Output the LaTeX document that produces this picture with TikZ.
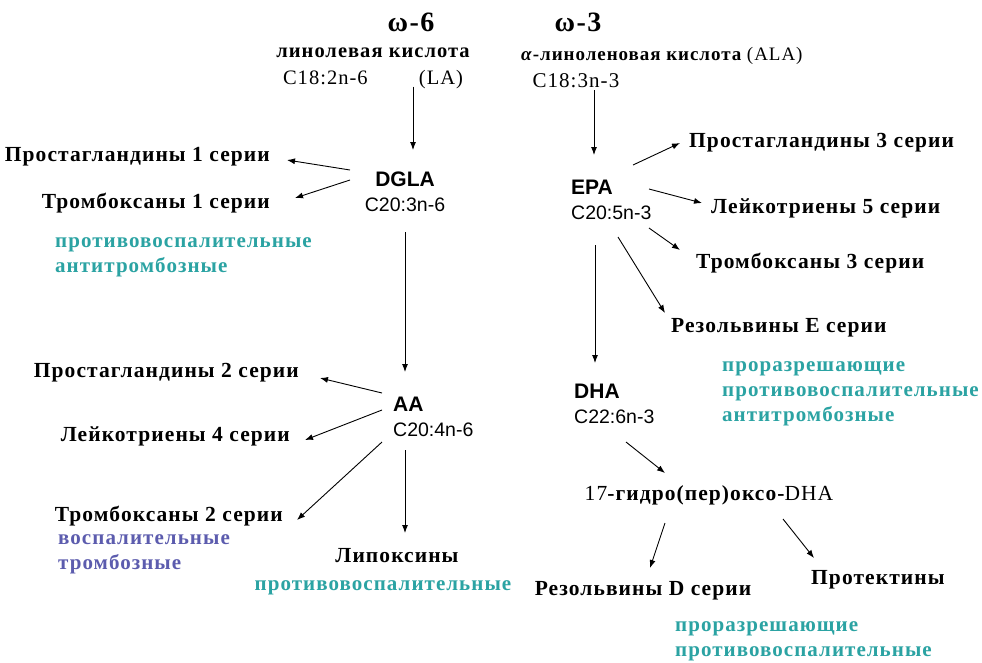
\documentclass[tikz,border=0pt]{standalone}
\usepackage{fontspec}
\setmainfont{Liberation Serif}[LetterSpace=5]
\setsansfont{Liberation Sans}
\usetikzlibrary{arrows.meta}
\definecolor{proresteal}{HTML}{2BA3A3}
\definecolor{inflamviolet}{HTML}{5C5CAE}
\newcommand\acidname[1]{{\fontsize{21}{25}\selectfont\bfseries #1}}

\begin{document}
\begin{tikzpicture}[x=1pt, y=-1pt,
    title/.style={font=\fontsize{28}{30}\selectfont\bfseries, inner sep=1pt},
    ser/.style={font=\fontsize{21.5}{27}\selectfont\bfseries, inner sep=1pt},
    acid/.style={font=\sffamily\fontsize{19.5}{25}\selectfont, align=left, inner sep=1pt},
    good/.style={font=\fontsize{21}{25}\selectfont\bfseries, text=proresteal, align=left, inner sep=0pt},
    bad/.style={good, text=inflamviolet},
    arrow/.style={-{Latex[length=8pt,width=6pt]}, line width=0.9pt},
  ]
  \useasboundingbox[fill=white] (0,0) rectangle (982,662);

  % omega-6
  \node[title] (w6) at (411,22) {ω-6};
  \node[ser, align=center, font=\fontsize{20.5}{27}\selectfont\bfseries] (la) at (373,68) {линолевая кислота\\{\mdseries C18:2n-6\hspace{2.5em}(LA)}};
  \node[acid, align=center] (dgla) at (405,192) {\acidname{DGLA}\\C20:3n-6};
  \node[acid, anchor=west] (aa) at (392,417) {\acidname{AA}\\C20:4n-6};

  \node[ser, anchor=east] (pg1) at (271,157) {Простагландины 1 серии};
  \node[ser, anchor=east] (tx1) at (271,203) {Тромбоксаны 1 серии};
  \node[good, anchor=west] (note1) at (55,257) {противовоспалительные\\антитромбозные};
  \node[ser, anchor=east] (pg2) at (300,373) {Простагландины 2 серии};
  \node[ser, anchor=east] (lt4) at (291,436) {Лейкотриены 4 серии};
  \node[ser, anchor=east] (tx2) at (284,516) {Тромбоксаны 2 серии};
  \node[bad, anchor=west] (note2) at (58,554) {воспалительные\\тромбозные};
  \node[ser] (lx) at (397,556) {Липоксины};
  \node[good] (note3) at (383,588) {противовоспалительные};

  \draw[arrow] ([shift={(40,-3)}]la.south) -- ([shift={(8,-42)}]dgla.center);
  \draw[arrow] ([shift={(-55,-22)}]dgla.center) -- ([shift={(16,3)}]pg1.east);
  \draw[arrow] ([shift={(-55,-12)}]dgla.center) -- ([shift={(24,-5)}]tx1.east);
  \draw[arrow] ([shift={(0,40)}]dgla.center) -- ([shift={(13,-45)}]aa.west);
  \draw[arrow] ([shift={(-10,-24)}]aa.west) -- ([shift={(20,5)}]pg2.east);
  \draw[arrow] ([shift={(-10,-7)}]aa.west) -- ([shift={(14,4)}]lt4.east);
  \draw[arrow] ([shift={(-10,25)}]aa.west) -- ([shift={(13,4)}]tx2.east);
  \draw[arrow] ([shift={(13,33)}]aa.west) -- ([shift={(8,-23)}]lx.center);

  % omega-3
  \node[title] (w3) at (578,22) {ω-3};
  \node[ser, align=left, anchor=west, font=\fontsize{19}{27}\selectfont\bfseries] (ala) at (520,68) {\textit{α}-линоленовая кислота {\mdseries (ALA)}\\\hspace{0.6em}{\mdseries\fontsize{21}{27}\selectfont C18:3n-3}};
  \node[acid, anchor=west] (epa) at (570,200) {\acidname{EPA}\\C20:5n-3};
  \node[acid, anchor=west] (dha) at (573,404) {\acidname{DHA}\\C22:6n-3};

  \node[ser, anchor=west] (pg3) at (688,143) {Простагландины 3 серии};
  \node[ser, anchor=west] (lt5) at (710,208) {Лейкотриены 5 серии};
  \node[ser, anchor=west] (tx3) at (695,263) {Тромбоксаны 3 серии};
  \node[ser, anchor=west] (rve) at (670,328) {Резольвины Е серии};
  \node[good, anchor=west] (note4) at (722,394) {проразрешающие\\противовоспалительные\\антитромбозные};
  \node[ser, font=\fontsize{21.5}{27}\selectfont\bfseries] (hdha) at (709,495) {{\mdseries 17}-гидро(пер)оксо-{\mdseries DHA}};
  \node[ser] (rvd) at (643,591) {Резольвины D серии};
  \node[ser, anchor=west] (pd) at (810,580) {Протектины};
  \node[good, anchor=west] (note5) at (675,641) {проразрешающие\\противовоспалительные};

  \draw[arrow] ([shift={(74,22)}]ala.west) -- ([shift={(24,-45)}]epa.west);
  \draw[arrow] ([shift={(63,-35)}]epa.west) -- ([shift={(-8,0)}]pg3.west);
  \draw[arrow] ([shift={(79,-11)}]epa.west) -- ([shift={(-8,-5)}]lt5.west);
  \draw[arrow] ([shift={(79,28)}]epa.west) -- ([shift={(-15,-13)}]tx3.west);
  \draw[arrow] ([shift={(48,37)}]epa.west) -- ([shift={(-5,-15)}]rve.west);
  \draw[arrow] ([shift={(25,45)}]epa.west) -- ([shift={(22,-41)}]dha.west);
  \draw[arrow] ([shift={(53,38)}]dha.west) -- ([shift={(-44,-22)}]hdha.center);
  \draw[arrow] ([shift={(-44,28)}]hdha.center) -- ([shift={(7,-23)}]rvd.center);
  \draw[arrow] ([shift={(74,24)}]hdha.center) -- ([shift={(4,-22)}]pd.west);
\end{tikzpicture}
\end{document}
